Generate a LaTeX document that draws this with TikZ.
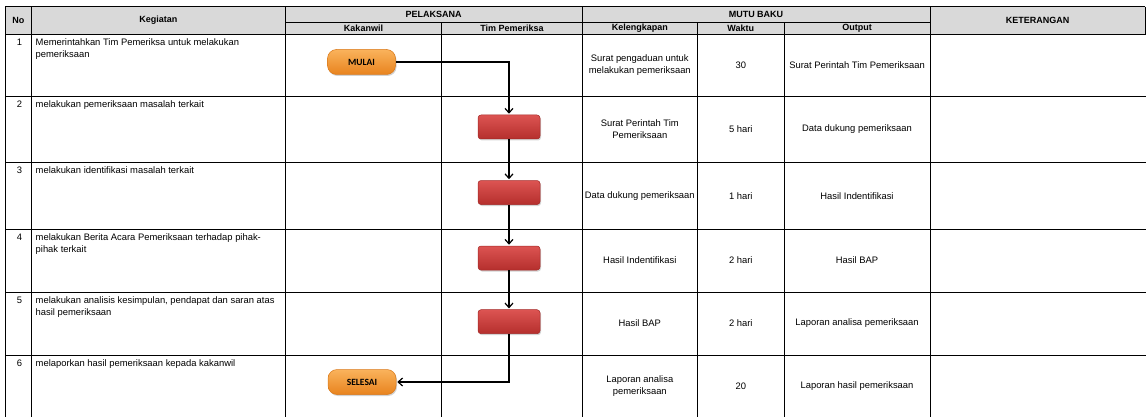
\documentclass[tikz,border=0pt]{standalone}
\usepackage{fontspec}
\setmainfont{Liberation Sans}
\newfontfamily\calibfont{Carlito}
\usepackage{tikz}
\usetikzlibrary{shapes, arrows.meta, positioning, shadows}
\definecolor{hdr}{HTML}{D9D9D9}
\definecolor{orTop}{HTML}{FAB35C}
\definecolor{orBot}{HTML}{E8831E}
\definecolor{orLine}{HTML}{D9791A}
\definecolor{rdTop}{HTML}{DC5452}
\definecolor{rdBot}{HTML}{B52F2D}
\definecolor{rdLine}{HTML}{A32826}
\tikzset{
    grid/.style={line width=0.9pt, black},
    head/.style={font=\fontsize{9}{10}\selectfont\bfseries, inner sep=0pt},
    cell/.style={font=\fontsize{9.4}{12}\selectfont, align=center, inner sep=0pt},
    task/.style={font=\fontsize{9.4}{12}\selectfont, align=left, anchor=north west, inner sep=0pt},
    num/.style={font=\fontsize{9.4}{12}\selectfont, anchor=north, inner sep=0pt},
    terminal/.style={rectangle, rounded corners=9pt, minimum width=68pt, minimum height=25pt, top color=orTop, bottom color=orBot, draw=orLine, line width=0.5pt, font=\calibfont\bfseries\fontsize{9.5}{10}\selectfont, drop shadow={shadow xshift=1pt, shadow yshift=-1.5pt, opacity=0.35}},
    process/.style={rectangle, rounded corners=3pt, minimum width=62pt, minimum height=24pt, top color=rdTop, bottom color=rdBot, draw=rdLine, line width=0.5pt, drop shadow={shadow xshift=1pt, shadow yshift=-1.5pt, opacity=0.35}},
    arrow/.style={line width=1.2pt, -{Straight Barb[length=4.5pt, width=8pt]}, shorten >=1pt}
}
\begin{document}
\begin{tikzpicture}[x=1pt, y=-1pt]
        \useasboundingbox (0,0) rectangle (1146,417);

        % header band and grid lines
        \fill[hdr] (5,6.7) rectangle (1145,34.3);
        \draw[grid] (5,6.7) -- (1145,6.7);
        \draw[grid] (285,22.7) -- (930,22.7);
        \draw[grid] (5,34.3) -- (1146,34.3);
        \draw[grid] (5,96) -- (1146,96);
        \draw[grid] (5,162.3) -- (1146,162.3);
        \draw[grid] (5,229) -- (1146,229);
        \draw[grid] (5,292) -- (1146,292);
        \draw[grid] (5,355) -- (1146,355);
        \draw[grid] (5,6.7) -- (5,417);
        \draw[grid] (31.7,6.7) -- (31.7,417);
        \draw[grid] (285,6.7) -- (285,417);
        \draw[grid] (441.7,22.7) -- (441.7,417);
        \draw[grid] (582,6.7) -- (582,417);
        \draw[grid] (697.5,22.7) -- (697.5,417);
        \draw[grid] (784,22.7) -- (784,417);
        \draw[grid] (930,6.7) -- (930,417);
        \draw[grid] (1145,6.7) -- (1145,34.3);

        \node[head] (hNo) at (18.3, 20.5) {No};
        \node[head] (hKeg) at (158.3, 20.5) {Kegiatan};
        \node[head] (hPel) at (433.5, 14.7) {PELAKSANA};
        \node[head] (hMutu) at (756, 14.7) {MUTU BAKU};
        \node[head] (hKet) at (1037.5, 20.5) {KETERANGAN};
        \node[head] (hKak) at (363.5, 28.5) {Kakanwil};
        \node[head] (hTim) at (512, 28.5) {Tim Pemeriksa};
        \node[head] (hKel) at (639.8, 28.5) {Kelengkapan};
        \node[head] (hWak) at (740.8, 28.5) {Waktu};
        \node[head] (hOut) at (857, 28.5) {Output};

        \node[num] (n1) at (19.5, 38.8) {1};
        \node[num] (n2) at (19.5, 100.5) {2};
        \node[num] (n3) at (19.5, 166.8) {3};
        \node[num] (n4) at (19.5, 233.5) {4};
        \node[num] (n5) at (19.5, 296.5) {5};
        \node[num] (n6) at (19.5, 359.5) {6};

        \node[task] (k1) at (35.5, 38.8) {Memerintahkan Tim Pemeriksa untuk melakukan\\pemeriksaan};
        \node[task] (k2) at (35.5, 100.5) {melakukan pemeriksaan masalah terkait};
        \node[task] (k3) at (35.5, 166.8) {melakukan identifikasi masalah terkait};
        \node[task] (k4) at (35.5, 233.5) {melakukan Berita Acara Pemeriksaan terhadap pihak-\\pihak terkait};
        \node[task] (k5) at (35.5, 296.5) {melakukan analisis kesimpulan, pendapat dan saran atas\\hasil pemeriksaan};
        \node[task] (k6) at (35.5, 359.5) {melaporkan hasil pemeriksaan kepada kakanwil};

        \node[cell] (l1) at (639.8, 65.2) {Surat pengaduan untuk\\melakukan pemeriksaan};
        \node[cell] (l2) at (639.8, 129.2) {Surat Perintah Tim\\Pemeriksaan};
        \node[cell] (l3) at (639.8, 195.7) {Data dukung pemeriksaan};
        \node[cell] (l4) at (639.8, 260.5) {Hasil Indentifikasi};
        \node[cell] (l5) at (639.8, 323.5) {Hasil BAP};
        \node[cell] (l6) at (639.8, 386) {Laporan analisa\\pemeriksaan};

        \node[cell] (w1) at (740.8, 65.2) {30};
        \node[cell] (w2) at (740.8, 129.2) {5 hari};
        \node[cell] (w3) at (740.8, 195.7) {1 hari};
        \node[cell] (w4) at (740.8, 260.5) {2 hari};
        \node[cell] (w5) at (740.8, 323.5) {2 hari};
        \node[cell] (w6) at (740.8, 386) {20};

        \node[cell] (o1) at (857, 65.2) {Surat Perintah Tim Pemeriksaan};
        \node[cell] (o2) at (857, 129.2) {Data dukung pemeriksaan};
        \node[cell] (o3) at (857, 195.7) {Hasil Indentifikasi};
        \node[cell] (o4) at (857, 260.5) {Hasil BAP};
        \node[cell] (o5) at (857, 323.5) {Laporan analisa pemeriksaan};
        \node[cell] (o6) at (857, 386) {Laporan hasil pemeriksaan};

        % flow
        \node[terminal] (Mulai) at (361.5, 62) {MULAI};
        \node[process] (P1) at (509, 127) {};
        \node[process] (P2) at (509, 192.5) {};
        \node[process] (P3) at (509, 258) {};
        \node[process] (P4) at (509, 321.7) {};
        \node[terminal] (Selesai) at (362, 382) {SELESAI};

        \draw[arrow] (Mulai.east) -| (P1.north);
        \draw[arrow] (P1.south) -- (P2.north);
        \draw[arrow] (P2.south) -- (P3.north);
        \draw[arrow] (P3.south) -- (P4.north);
        \draw[arrow] (P4.south) |- (Selesai.east);
    \end{tikzpicture}
\end{document}
